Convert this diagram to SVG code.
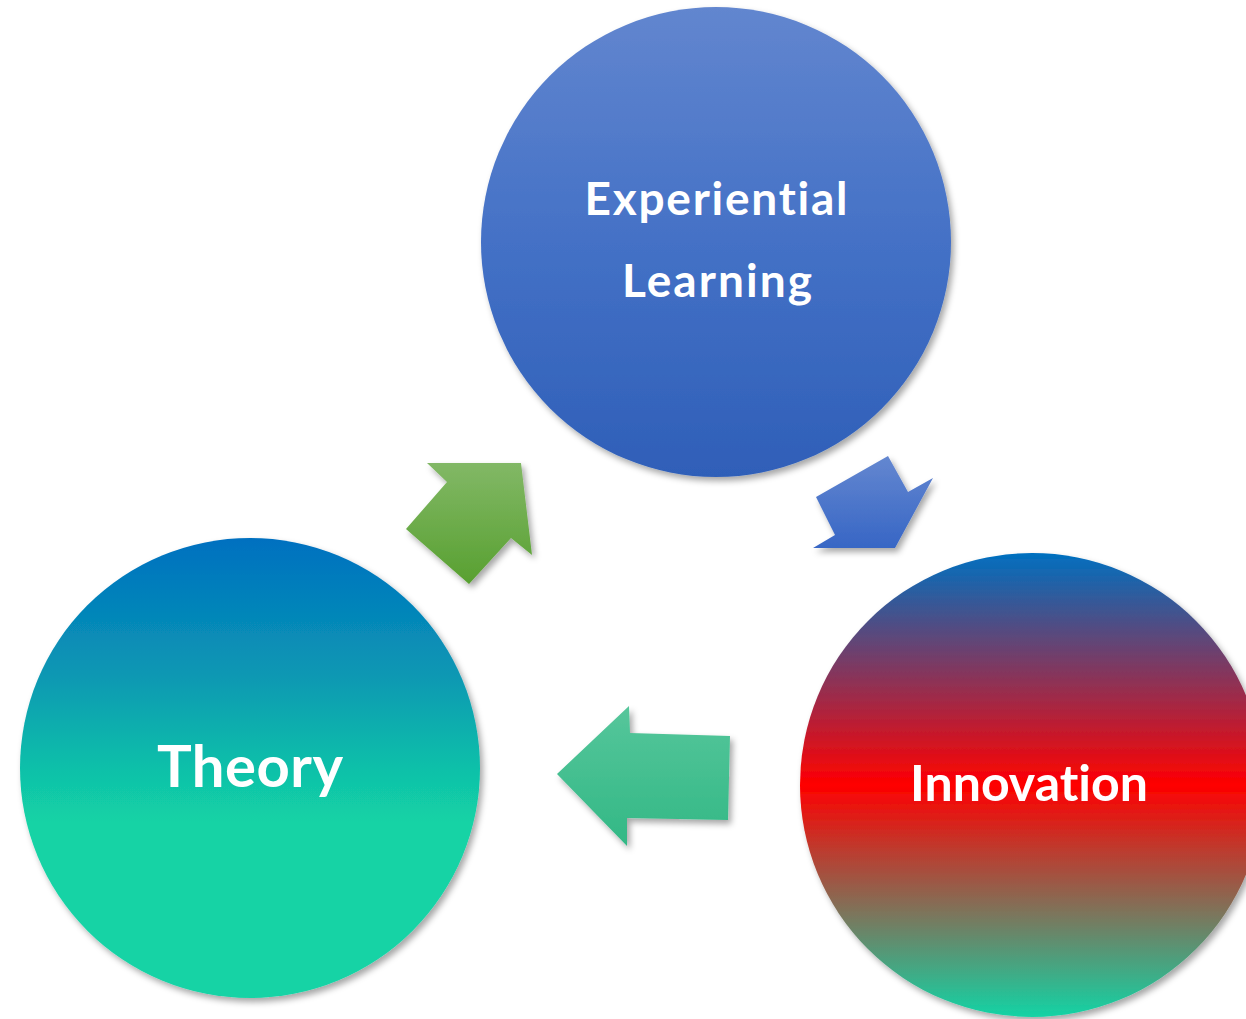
<svg xmlns="http://www.w3.org/2000/svg" width="1246" height="1019" viewBox="0 0 1246 1019">
<style>
.lbl{font-family:Lato,"Open Sans","Liberation Sans",sans-serif;font-weight:bold;fill:#ffffff;text-anchor:middle;font-variant-ligatures:none;font-feature-settings:"liga" 0,"clig" 0}
</style>
<defs>
<filter id="sh" x="-20%" y="-20%" width="140%" height="140%">
<feDropShadow dx="3" dy="4" stdDeviation="3" flood-color="#000" flood-opacity="0.35"/>
</filter>
<linearGradient id="gExp" x1="0" y1="0" x2="0" y2="1">
<stop offset="0" stop-color="#6286cf"/>
<stop offset="0.5" stop-color="#4471c6"/>
<stop offset="1" stop-color="#2f5fb8"/>
</linearGradient>
<linearGradient id="gTh" x1="0" y1="0" x2="0" y2="1">
<stop offset="0" stop-color="#0070c0"/>
<stop offset="0.3" stop-color="#0a98b3"/>
<stop offset="0.5" stop-color="#10c0a9"/>
<stop offset="0.62" stop-color="#13d3a5"/>
<stop offset="1" stop-color="#13d3a5"/>
</linearGradient>
<linearGradient id="gIn" x1="0" y1="0" x2="0" y2="1">
<stop offset="0" stop-color="#0070c0"/>
<stop offset="0.5" stop-color="#ff0000"/>
<stop offset="1" stop-color="#13d3a5"/>
</linearGradient>
<linearGradient id="gGreen" x1="0" y1="0" x2="0" y2="1">
<stop offset="0" stop-color="#82b866"/>
<stop offset="1" stop-color="#58a030"/>
</linearGradient>
<linearGradient id="gBlue" x1="0" y1="0" x2="0" y2="1">
<stop offset="0" stop-color="#6487d0"/>
<stop offset="1" stop-color="#3766c5"/>
</linearGradient>
<linearGradient id="gTeal" x1="0" y1="0" x2="0" y2="1">
<stop offset="0" stop-color="#56c69b"/>
<stop offset="1" stop-color="#32b885"/>
</linearGradient>
</defs>

<g id="connectors" filter="url(#sh)">
<polygon id="arrow-theory-exp" fill="url(#gGreen)" points="521,463 532,555 511,538 469,584 406,529 447,482 427,463"/>
<polygon id="arrow-exp-innov" fill="url(#gBlue)" points="888,456 908,492 933,478 895,548 813,548 835,535 816,497"/>
<polygon id="arrow-innov-theory" fill="url(#gTeal)" points="557,774 629,706 630,733 730,736 728,820 627,818 627,846"/>
</g>

<g id="node-experiential">
<circle cx="716" cy="242" r="235" fill="url(#gExp)" filter="url(#sh)"/>
<text class="lbl" x="716" y="215" font-size="46" textLength="263" lengthAdjust="spacing">Experiential</text>
<text class="lbl" x="717" y="297" font-size="46" textLength="190" lengthAdjust="spacing">Learning</text>
</g>

<g id="node-theory">
<circle cx="250" cy="768" r="230" fill="url(#gTh)" filter="url(#sh)"/>
<text class="lbl" x="250" y="787" font-size="58" textLength="186" lengthAdjust="spacing">Theory</text>
</g>

<g id="node-innovation">
<circle cx="1032" cy="785" r="232" fill="url(#gIn)" filter="url(#sh)"/>
<text class="lbl" x="1029" y="801" font-size="50" textLength="238" lengthAdjust="spacing">Innovation</text>
</g>
</svg>
